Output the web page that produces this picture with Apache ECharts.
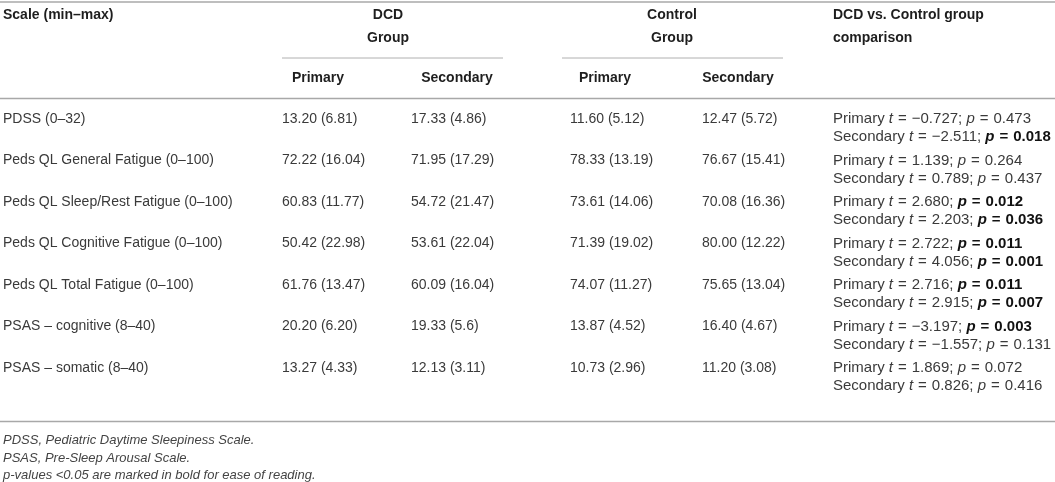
<!DOCTYPE html>
<html>
<head>
<meta charset="utf-8">
<script src="https://cdn.jsdelivr.net/npm/echarts@6/dist/echarts.min.js"></script>
<style>
html,body{margin:0;padding:0;background:#ffffff;}
#c{width:1055px;height:482px;}
</style>
</head>
<body>
<div id="c"></div>
<script>
// ---- data ----
const scales = [
  "PDSS (0–32)",
  "Peds QL General Fatigue (0–100)",
  "Peds QL Sleep/Rest Fatigue (0–100)",
  "Peds QL Cognitive Fatigue (0–100)",
  "Peds QL Total Fatigue (0–100)",
  "PSAS – cognitive (8–40)",
  "PSAS – somatic (8–40)"
];
const dcdPrimary   = ["13.20 (6.81)","72.22 (16.04)","60.83 (11.77)","50.42 (22.98)","61.76 (13.47)","20.20 (6.20)","13.27 (4.33)"];
const dcdSecondary = ["17.33 (4.86)","71.95 (17.29)","54.72 (21.47)","53.61 (22.04)","60.09 (16.04)","19.33 (5.6)","12.13 (3.11)"];
const ctrlPrimary  = ["11.60 (5.12)","78.33 (13.19)","73.61 (14.06)","71.39 (19.02)","74.07 (11.27)","13.87 (4.52)","10.73 (2.96)"];
const ctrlSecondary= ["12.47 (5.72)","76.67 (15.41)","70.08 (16.36)","80.00 (12.22)","75.65 (13.04)","16.40 (4.67)","11.20 (3.08)"];
const primaryT   = ["−0.727","1.139","2.680","2.722","2.716","−3.197","1.869"];
const primaryP   = ["0.473","0.264","0.012","0.011","0.011","0.003","0.072"];
const secondaryT = ["−2.511","0.789","2.203","4.056","2.915","−1.557","0.826"];
const secondaryP = ["0.018","0.437","0.036","0.001","0.007","0.131","0.416"];
const groupHeaders = [["DCD","Group"],["Control","Group"]];
const subHeaders = ["Primary","Secondary","Primary","Secondary"];
const colHeader = "Scale (min–max)";
const compHeader = ["DCD vs. Control group","comparison"];
const footnotes = [
  "PDSS, Pediatric Daytime Sleepiness Scale.",
  "PSAS, Pre-Sleep Arousal Scale.",
  "p-values <0.05 are marked in bold for ease of reading."
];

// ---- layout / style ----
const FONT = '"Liberation Sans", Arial, Helvetica, sans-serif';
const FS = 14;
const CFS = 15;
const BODY = '#3a3a3a';
const HEAD = '#1e1e1e';
const RULE = '#a8a8a8';
const colX = [3, 282, 411, 570, 702, 833];
const LINE1 = 20, LINE2 = 38;
const SP = '\u2004'; // slightly wider spacing around "="

function compText(label, t, p) {
  const sig = parseFloat(p) < 0.05;
  return '{n|' + label + ' }{i|t}{n|' + SP + '=' + SP + t + '; }' +
    (sig ? '{bi|p}{b|' + SP + '=' + SP + p + '}' : '{i|p}{n|' + SP + '=' + SP + p + '}');
}
const rich = {
  n: {fontFamily: FONT, fontSize: CFS, fill: BODY, fontWeight: 'normal', fontStyle: 'normal'},
  i: {fontFamily: FONT, fontSize: CFS, fill: BODY, fontWeight: 'normal', fontStyle: 'italic'},
  b: {fontFamily: FONT, fontSize: CFS, fill: '#111', fontWeight: 'bold', fontStyle: 'normal'},
  bi: {fontFamily: FONT, fontSize: CFS, fill: '#111', fontWeight: 'bold', fontStyle: 'italic'}
};

function txt(text, x, y, opts) {
  opts = opts || {};
  return {
    type: 'text',
    style: {
      text: text, x: x, y: y,
      fill: opts.fill || BODY,
      font: (opts.style || 'normal') + ' ' + (opts.weight || 'normal') + ' ' + (opts.size || FS) + 'px ' + FONT,
      align: opts.align || 'left', textAlign: opts.align || 'left',
      verticalAlign: 'middle', textVerticalAlign: 'middle',
      rich: opts.rich
    }
  };
}
function rule(x1, y, x2, w, c) {
  return {type: 'line', shape: {x1: x1, y1: y, x2: x2, y2: y}, style: {stroke: c || RULE, lineWidth: w || 1.5}, silent: true};
}

const graphics = [
  rule(0, 2, 1055, 1.5),
  rule(0, 98.5, 1055, 1.5),
  rule(0, 421.5, 1055, 1.5),
  rule(282, 58, 503, 1, '#b0b0b0'),
  rule(562, 58, 783, 1, '#b0b0b0'),
  txt(colHeader, 3, 15, {weight: 'bold', fill: HEAD}),
  txt(groupHeaders[0][0], 388, 15, {weight: 'bold', fill: HEAD, align: 'center'}),
  txt(groupHeaders[0][1], 388, 38, {weight: 'bold', fill: HEAD, align: 'center'}),
  txt(groupHeaders[1][0], 672, 15, {weight: 'bold', fill: HEAD, align: 'center'}),
  txt(groupHeaders[1][1], 672, 38, {weight: 'bold', fill: HEAD, align: 'center'}),
  txt(compHeader[0], 833, 15, {weight: 'bold', fill: HEAD}),
  txt(compHeader[1], 833, 38, {weight: 'bold', fill: HEAD}),
  txt(subHeaders[0], 318, 78, {weight: 'bold', fill: HEAD, align: 'center'}),
  txt(subHeaders[1], 457, 78, {weight: 'bold', fill: HEAD, align: 'center'}),
  txt(subHeaders[2], 605, 78, {weight: 'bold', fill: HEAD, align: 'center'}),
  txt(subHeaders[3], 738, 78, {weight: 'bold', fill: HEAD, align: 'center'}),
  txt(footnotes[0], 3, 440, {style: 'italic', fill: '#444', size: 13}),
  txt(footnotes[1], 3, 458, {style: 'italic', fill: '#444', size: 13}),
  txt(footnotes[2], 3, 475.5, {style: 'italic', fill: '#444', size: 13})
];

const chart = echarts.init(document.getElementById('c'));
chart.setOption({
  animation: false,
  backgroundColor: '#ffffff',
  grid: {left: 0, right: 0, top: 99, bottom: 92.5, containLabel: false},
  xAxis: {type: 'value', min: 0, max: 1055, show: false},
  yAxis: {type: 'category', data: scales, inverse: true, show: false},
  series: [{
    type: 'custom',
    data: scales.map((s, i) => [0, i]),
    renderItem: function (params, api) {
      const i = params.dataIndex;
      const c = api.coord([0, i]);
      const bandH = api.size([0, 1])[1];
      const top = c[1] - bandH / 2;
      const y1 = top + LINE1, y2 = top + LINE2;
      const X = colX.map(x => api.coord([x, i])[0]);
      return {
        type: 'group',
        children: [
          txt(scales[i], X[0], y1),
          txt(dcdPrimary[i], X[1], y1),
          txt(dcdSecondary[i], X[2], y1),
          txt(ctrlPrimary[i], X[3], y1),
          txt(ctrlSecondary[i], X[4], y1),
          txt(compText('Primary', primaryT[i], primaryP[i]), X[5], y1, {rich: rich}),
          txt(compText('Secondary', secondaryT[i], secondaryP[i]), X[5], y2, {rich: rich})
        ]
      };
    }
  }],
  graphic: graphics
});
</script>
</body>
</html>
